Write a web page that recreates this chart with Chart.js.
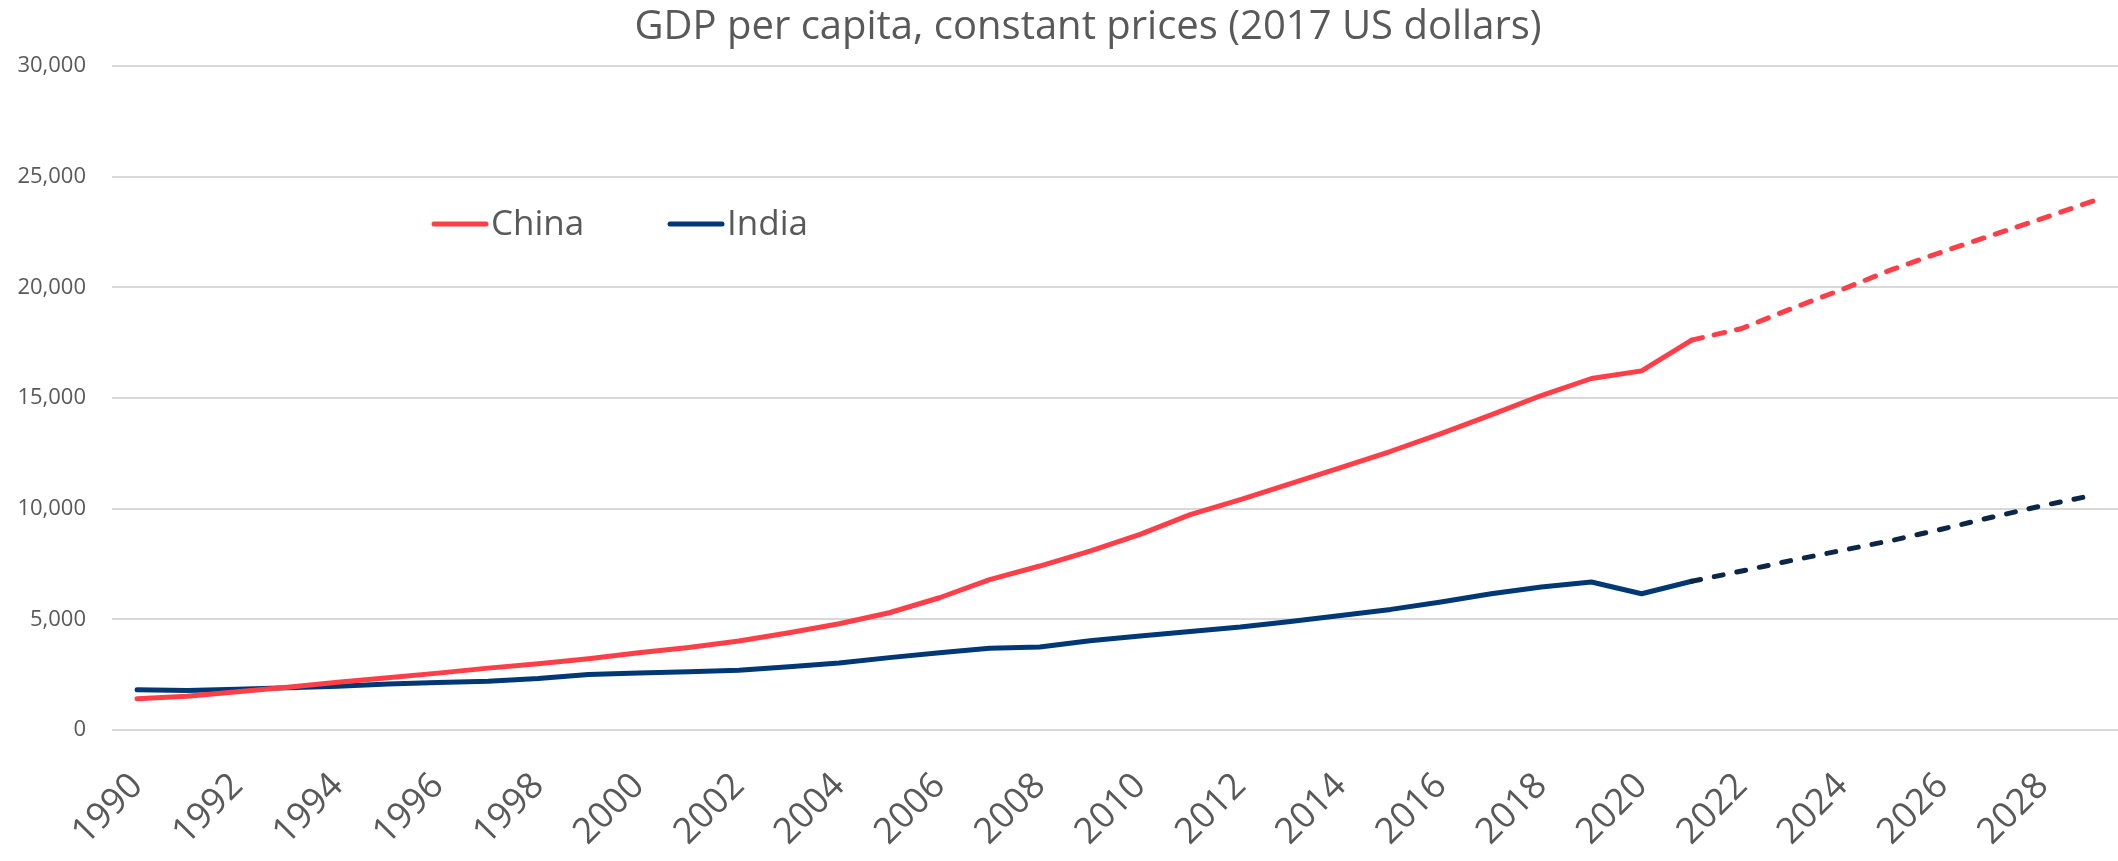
<!DOCTYPE html>
<html>
<head>
<meta charset="utf-8">
<script src="https://cdn.jsdelivr.net/npm/chart.js@4"></script>
<style>
  html, body { margin: 0; padding: 0; background: #ffffff; }
  #wrap { width: 2118px; height: 861px; }
</style>
</head>
<body>
<div id="wrap"><canvas id="c" width="2118" height="861"></canvas></div>
<script>
const titleText = 'GDP per capita, constant prices (2017 US dollars)';
const years = [1990,1991,1992,1993,1994,1995,1996,1997,1998,1999,
               2000,2001,2002,2003,2004,2005,2006,2007,2008,2009,
               2010,2011,2012,2013,2014,2015,2016,2017,2018,2019,
               2020,2021,2022,2023,2024,2025,2026,2027,2028,2029];
const chinaValues = [1410,1530,1726,1936,2162,2359,2570,2796,2992,3218,
                     3491,3731,4017,4394,4801,5298,5976,6791,7408,8086,
                     8841,9730,10408,11132,11855,12594,13393,14235,15112,15881,
                     16225,17613,18142,19047,19906,20810,21607,22361,23116,23899];
const indiaValues = [1816,1786,1846,1907,1982,2073,2148,2208,2329,2510,
                     2570,2630,2700,2860,3030,3270,3490,3690,3750,4030,
                     4250,4450,4650,4906,5178,5449,5781,6158,6458,6685,
                     6158,6720,7182,7665,8117,8569,9080,9623,10138,10604];
const seriesNames = ['China', 'India'];
const forecastFromYear = 2021;
const yTicks = [0, 5000, 10000, 15000, 20000, 25000, 30000];

const forecastIdx = years.indexOf(forecastFromYear);
const TEXT = '#595959';
const FONT = 'Open Sans';

const titleShiftPlugin = {
  id: 'titleShift',
  afterLayout(chart) {
    if (chart.titleBlock) { chart.titleBlock.left = 58; }
  }
};

const legendPlugin = {
  id: 'inlineLegend',
  afterDraw(chart) {
    const ctx = chart.ctx;
    const items = [
      { lineX: 432, ds: chart.data.datasets[0] },
      { lineX: 668, ds: chart.data.datasets[1] }
    ];
    const y = 224;
    ctx.save();
    items.forEach(it => {
      ctx.beginPath();
      ctx.lineWidth = 5;
      ctx.lineCap = 'round';
      ctx.strokeStyle = it.ds.borderColor;
      ctx.moveTo(it.lineX + 2, y);
      ctx.lineTo(it.lineX + 54, y);
      ctx.stroke();
      ctx.fillStyle = TEXT;
      ctx.font = '35px "' + FONT + '"';
      ctx.textBaseline = 'middle';
      ctx.textAlign = 'left';
      ctx.fillText(it.ds.label, it.lineX + 59, y + 1);
    });
    ctx.restore();
  }
};

new Chart(document.getElementById('c'), {
  type: 'line',
  data: {
    labels: years.map(String),
    datasets: [
      {
        label: seriesNames[0],
        data: chinaValues,
        borderColor: '#FF3F48',
        borderWidth: 5,
        borderCapStyle: 'round',
        borderJoinStyle: 'round',
        pointRadius: 0,
        tension: 0,
        segment: {
          borderDash: ctx => ctx.p0DataIndex >= forecastIdx ? [11, 12] : undefined
        }
      },
      {
        label: seriesNames[1],
        data: indiaValues,
        borderColor: '#003876',
        borderWidth: 5,
        borderCapStyle: 'round',
        borderJoinStyle: 'round',
        pointRadius: 0,
        tension: 0,
        segment: {
          borderDash: ctx => ctx.p0DataIndex >= forecastIdx ? [9, 14] : undefined,
          borderColor: ctx => ctx.p0DataIndex >= forecastIdx ? '#0C2647' : undefined
        }
      }
    ]
  },
  options: {
    responsive: false,
    animation: false,
    devicePixelRatio: 1,
    layout: { padding: { left: 0, right: 0, top: 0, bottom: 0 } },
    plugins: {
      legend: { display: false },
      tooltip: { enabled: false },
      title: {
        display: true,
        text: titleText,
        color: TEXT,
        font: { family: FONT, size: 40, weight: 'normal' },
        padding: { top: 4, bottom: 14 }
      }
    },
    scales: {
      x: {
        type: 'category',
        offset: true,
        grid: { display: false, drawTicks: false },
        border: { display: false },
        ticks: {
          autoSkip: false,
          maxRotation: 45,
          minRotation: 45,
          padding: 35,
          color: TEXT,
          font: { family: FONT, size: 36 },
          callback: (v, i) => (years[i] % 2 === 0 ? String(years[i]) : '')
        },
        afterFit: s => {
          s.height = 131;
          s.paddingLeft = 0;
          s.paddingRight = 0;
        }
      },
      y: {
        min: yTicks[0],
        max: yTicks[yTicks.length - 1],
        grid: { color: '#D9D9D9', lineWidth: 2, drawTicks: false },
        border: { display: false },
        afterBuildTicks: s => { s.ticks = yTicks.map(v => ({ value: v })); },
        ticks: {
          padding: 26,
          color: TEXT,
          font: { family: FONT, size: 22 },
          callback: v => Number(v).toLocaleString('en-US')
        },
        afterFit: s => { s.width = 112; }
      }
    }
  },
  plugins: [titleShiftPlugin, legendPlugin]
});
</script>
</body>
</html>
